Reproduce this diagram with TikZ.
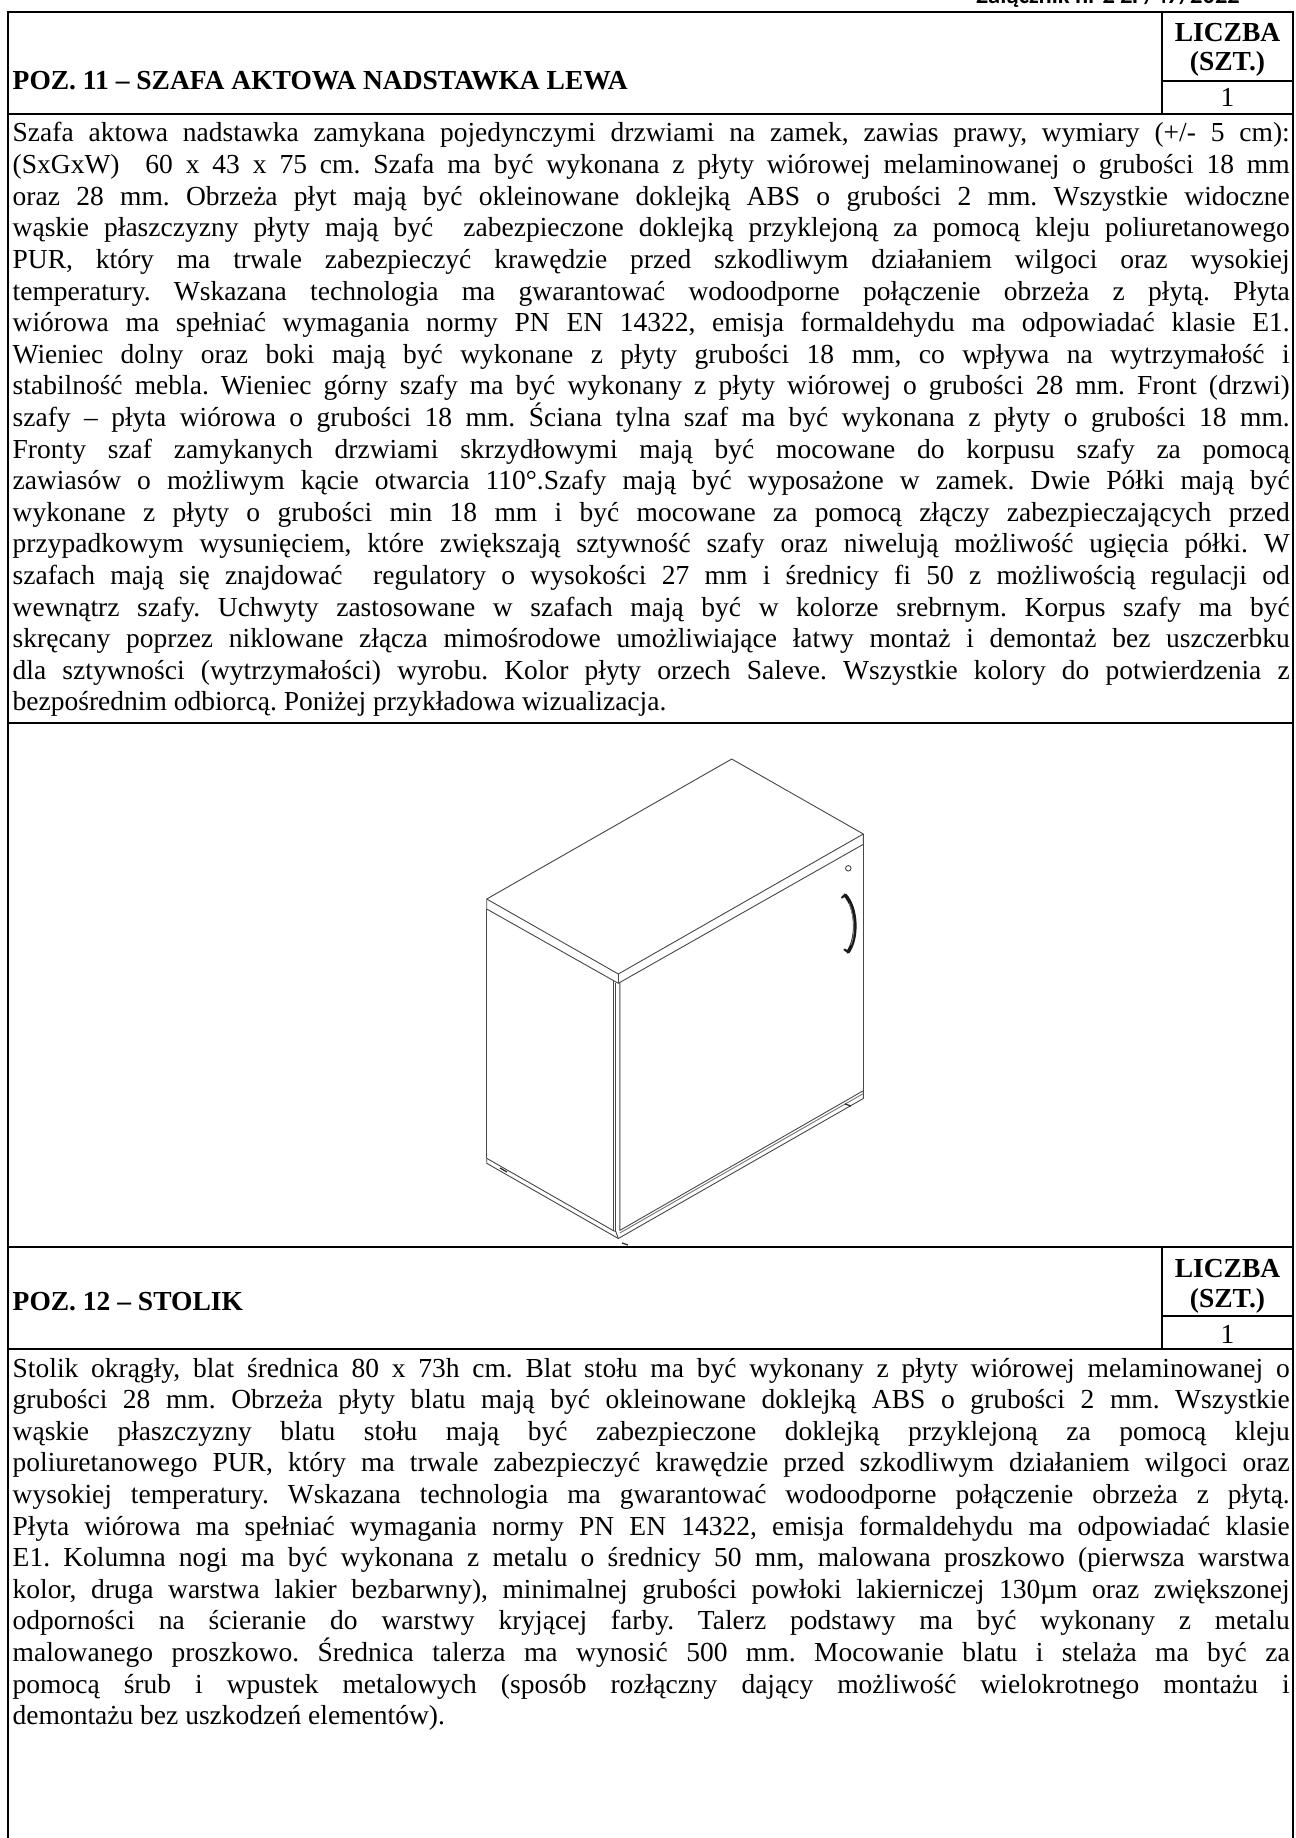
\documentclass[tikz,border=0pt]{standalone}
\usepackage{fontspec}
\setmainfont{Liberation Serif}
\newfontfamily\hdrfont{Carlito}
\newcommand{\JLine}[1]{\makebox[1277pt][s]{#1}}
\tikzset{
  rule/.style={line width=2.2pt, black, line cap=rect},
  bodytxt/.style={anchor=base west, inner sep=0pt, font=\fontsize{27.5}{31.6}\selectfont\frenchspacing},
  boldtxt/.style={anchor=base, inner sep=0pt, font=\fontsize{27.5}{31.6}\selectfont\bfseries},
  titletxt/.style={anchor=base west, inner sep=0pt, font=\fontsize{27.5}{31.6}\selectfont\bfseries\frenchspacing},
  cab/.style={line width=0.9pt, draw=black!72, line join=round},
  cabdark/.style={line width=1.2pt, draw=black!85},
}
\begin{document}
\frenchspacing
\begin{tikzpicture}[x=1pt,y=-1pt]
\useasboundingbox (0,0) rectangle (1295,1838);
% page header (cut at the top edge, as in the reference)
\node[anchor=base east, inner sep=0pt, font=\hdrfont\bfseries\fontsize{24.5}{28}\selectfont] (zal) at (1240,4) {Załącznik nr 2 ZP/47/2022};
% ---------- table rules ----------
\coordinate (L0) at (8,12.3);   \coordinate (R0) at (1293,12.3);
\coordinate (L1) at (8,114.3);  \coordinate (R1) at (1293,114.3);
\coordinate (L2) at (8,723);    \coordinate (R2) at (1293,723);
\coordinate (L3) at (8,1247);   \coordinate (R3) at (1293,1247);
\coordinate (L4) at (8,1349);   \coordinate (R4) at (1293,1349);
\coordinate (Lb) at (8,1838);   \coordinate (Rb) at (1293,1838);
\coordinate (C0) at (1162,12.3);  \coordinate (C1) at (1162,114.3);
\coordinate (Cm1) at (1162,81);   \coordinate (Rm1) at (1293,81);
\coordinate (C3) at (1162,1247);  \coordinate (C4) at (1162,1349);
\coordinate (Cm2) at (1162,1316); \coordinate (Rm2) at (1293,1316);
\draw[rule] (L0) -- (R0);
\draw[rule] (L1) -- (R1);
\draw[rule] (L2) -- (R2);
\draw[rule] (L3) -- (R3);
\draw[rule] (L4) -- (R4);
\draw[rule] (L0) -- (Lb);
\draw[rule] (R0) -- (Rb);
\draw[rule] (C0) -- (C1);
\draw[rule] (Cm1) -- (Rm1);
\draw[rule] (C3) -- (C4);
\draw[rule] (Cm2) -- (Rm2);
% ---------- section 1 header ----------
\node[titletxt] (t1) at (12.5,90) {POZ. 11 – SZAFA AKTOWA NADSTAWKA LEWA};
\node[boldtxt] (lic1) at (1227.5,42) {LICZBA};
\node[boldtxt] (szt1) at (1227.5,71) {(SZT.)};
\node[anchor=base, inner sep=0pt, font=\fontsize{27.5}{31.6}\selectfont] (n1) at (1227.5,107) {1};
% ---------- section 1 body ----------
\node[bodytxt] (a01) at (12.5,{142+31.6*0}) {\JLine{Szafa aktowa nadstawka zamykana pojedynczymi drzwiami na zamek, zawias prawy, wymiary (+/- 5 cm):}};
\node[bodytxt] (a02) at (12.5,{142+31.6*1}) {\JLine{(SxGxW)\ \ 60 x 43 x 75 cm. Szafa ma być wykonana z płyty wiórowej melaminowanej o grubości 18 mm}};
\node[bodytxt] (a03) at (12.5,{142+31.6*2}) {\JLine{oraz 28 mm. Obrzeża płyt mają być okleinowane doklejką ABS o grubości 2 mm. Wszystkie widoczne}};
\node[bodytxt] (a04) at (12.5,{142+31.6*3}) {\JLine{wąskie płaszczyzny płyty mają być\ \ zabezpieczone doklejką przyklejoną za pomocą kleju poliuretanowego}};
\node[bodytxt] (a05) at (12.5,{142+31.6*4}) {\JLine{PUR, który ma trwale zabezpieczyć krawędzie przed szkodliwym działaniem wilgoci oraz wysokiej}};
\node[bodytxt] (a06) at (12.5,{142+31.6*5}) {\JLine{temperatury. Wskazana technologia ma gwarantować wodoodporne połączenie obrzeża z płytą. Płyta}};
\node[bodytxt] (a07) at (12.5,{142+31.6*6}) {\JLine{wiórowa ma spełniać wymagania normy PN EN 14322, emisja formaldehydu ma odpowiadać klasie E1.}};
\node[bodytxt] (a08) at (12.5,{142+31.6*7}) {\JLine{Wieniec dolny oraz boki mają być wykonane z płyty grubości 18 mm, co wpływa na wytrzymałość i}};
\node[bodytxt] (a09) at (12.5,{142+31.6*8}) {\JLine{stabilność mebla. Wieniec górny szafy ma być wykonany z płyty wiórowej o grubości 28 mm. Front (drzwi)}};
\node[bodytxt] (a10) at (12.5,{142+31.6*9}) {\JLine{szafy – płyta wiórowa o grubości 18 mm. Ściana tylna szaf ma być wykonana z płyty o grubości 18 mm.}};
\node[bodytxt] (a11) at (12.5,{142+31.6*10}) {\JLine{Fronty szaf zamykanych drzwiami skrzydłowymi mają być mocowane do korpusu szafy za pomocą}};
\node[bodytxt] (a12) at (12.5,{142+31.6*11}) {\JLine{zawiasów o możliwym kącie otwarcia 110°.Szafy mają być wyposażone w zamek. Dwie Półki mają być}};
\node[bodytxt] (a13) at (12.5,{142+31.6*12}) {\JLine{wykonane z płyty o grubości min 18 mm i być mocowane za pomocą złączy zabezpieczających przed}};
\node[bodytxt] (a14) at (12.5,{142+31.6*13}) {\JLine{przypadkowym wysunięciem, które zwiększają sztywność szafy oraz niwelują możliwość ugięcia półki. W}};
\node[bodytxt] (a15) at (12.5,{142+31.6*14}) {\JLine{szafach mają się znajdować\ \ regulatory o wysokości 27 mm i średnicy fi 50 z możliwością regulacji od}};
\node[bodytxt] (a16) at (12.5,{142+31.6*15}) {\JLine{wewnątrz szafy. Uchwyty zastosowane w szafach mają być w kolorze srebrnym. Korpus szafy ma być}};
\node[bodytxt] (a17) at (12.5,{142+31.6*16}) {\JLine{skręcany poprzez niklowane złącza mimośrodowe umożliwiające łatwy montaż i demontaż bez uszczerbku}};
\node[bodytxt] (a18) at (12.5,{142+31.6*17}) {\JLine{dla sztywności (wytrzymałości) wyrobu. Kolor płyty orzech Saleve. Wszystkie kolory do potwierdzenia z}};
\node[bodytxt] (a19) at (12.5,{142+31.6*18}) {bezpośrednim odbiorcą. Poniżej przykładowa wizualizacja.};
% ---------- cabinet drawing ----------
\coordinate (TL) at (486.7,899);   \coordinate (TLb) at (486.7,909);
\coordinate (TF) at (618.3,974);   \coordinate (TFb) at (618.3,983.3);
\coordinate (TR) at (863.3,834);   \coordinate (TRb) at (863.3,844.3);
\coordinate (TB) at (731.7,759);
\draw[cab] (TL) -- (TF) -- (TR) -- (TB) -- cycle;
\draw[cab] (TL) -- (TLb) -- (TFb) -- (TRb) -- (TR);
\draw[cab] (TF) -- (TFb);
% left side panel
\coordinate (SL1) at (486.7,909);    \coordinate (SL2) at (486.7,1158.3);
\coordinate (SF1) at (613.3,980.5);  \coordinate (SF2) at (613.3,1230.6);
\draw[cab] (SL1) -- (SL2);
\draw[cab] (SF1) -- (SF2);
% bottom panel
\coordinate (BL1) at (486.7,1163.3); \coordinate (BF) at (618.3,1238.5);
\coordinate (BR) at (863.3,1098.5);  \coordinate (BR0) at (863.3,1090.7);
\draw[cab] (SL2) -- (BL1) -- (BF) -- (BR) -- (BR0);
\draw[cab] (SL2) -- (SF2);
% door
\coordinate (D1) at (615.8,983);   \coordinate (D1b) at (615.8,1231.5);
\coordinate (D2) at (619.8,982);   \coordinate (D2b) at (619.8,1230.4);
\coordinate (D3) at (619.8,1233);  \coordinate (D3r) at (863.3,1093.6);
\draw[cab] (D1) -- (D1b);
\draw[cab] (D2) -- (D2b) -- (BR0);
\draw[cab, draw=black!55] (D3) -- (D3r);
\draw[cab] (SF2) -- (D1b) -- (BF);
\draw[cab] (TRb) -- (BR0);
% lock and handle
\node[circle, draw=black!80, line width=0.8pt, minimum size=5.5pt, inner sep=0pt] (lock) at (848.3,868.3) {};
\coordinate (H1) at (845,895); \coordinate (H2) at (848,952);
\draw[line width=3.6pt, black!90, line cap=round] (H1) .. controls (857,908) and (858,938) .. (H2);
\draw[line width=2.2pt, black!90, line cap=round] (H1) -- (842,897.5);
\draw[line width=2.2pt, black!90, line cap=round] (H2) -- (844.5,949.5);
\draw[line width=0.7pt, black!45] (848.8,903) .. controls (854.8,916) and (855.2,935) .. (850.8,945);
% feet marks
\coordinate (F1a) at (500,1168); \coordinate (F1b) at (507,1172);
\coordinate (F2a) at (845,1104); \coordinate (F2b) at (851,1106);
\coordinate (F3a) at (622,1243); \coordinate (F3b) at (628,1245);
\draw[cabdark] (F1a) -- (F1b);
\draw[cabdark] (F2a) -- (F2b);
\draw[cabdark] (F3a) -- (F3b);
% ---------- section 2 header ----------
\node[titletxt] (t2) at (12.5,1310) {POZ. 12 – STOLIK};
\node[boldtxt] (lic2) at (1227.5,1277) {LICZBA};
\node[boldtxt] (szt2) at (1227.5,1307) {(SZT.)};
\node[anchor=base, inner sep=0pt, font=\fontsize{27.5}{31.6}\selectfont] (n2) at (1227.5,1343) {1};
% ---------- section 2 body ----------
\node[bodytxt] (b01) at (12.5,{1377+31.6*0}) {\JLine{Stolik okrągły, blat średnica 80 x 73h cm. Blat stołu ma być wykonany z płyty wiórowej melaminowanej o}};
\node[bodytxt] (b02) at (12.5,{1377+31.6*1}) {\JLine{grubości 28 mm. Obrzeża płyty blatu mają być okleinowane doklejką ABS o grubości 2 mm. Wszystkie}};
\node[bodytxt] (b03) at (12.5,{1377+31.6*2}) {\JLine{wąskie płaszczyzny blatu stołu mają być zabezpieczone doklejką przyklejoną za pomocą kleju}};
\node[bodytxt] (b04) at (12.5,{1377+31.6*3}) {\JLine{poliuretanowego PUR, który ma trwale zabezpieczyć krawędzie przed szkodliwym działaniem wilgoci oraz}};
\node[bodytxt] (b05) at (12.5,{1377+31.6*4}) {\JLine{wysokiej temperatury. Wskazana technologia ma gwarantować wodoodporne połączenie obrzeża z płytą.}};
\node[bodytxt] (b06) at (12.5,{1377+31.6*5}) {\JLine{Płyta wiórowa ma spełniać wymagania normy PN EN 14322, emisja formaldehydu ma odpowiadać klasie}};
\node[bodytxt] (b07) at (12.5,{1377+31.6*6}) {\JLine{E1. Kolumna nogi ma być wykonana z metalu o średnicy 50 mm, malowana proszkowo (pierwsza warstwa}};
\node[bodytxt] (b08) at (12.5,{1377+31.6*7}) {\JLine{kolor, druga warstwa lakier bezbarwny), minimalnej grubości powłoki lakierniczej 130µm oraz zwiększonej}};
\node[bodytxt] (b09) at (12.5,{1377+31.6*8}) {\JLine{odporności na ścieranie do warstwy kryjącej farby. Talerz podstawy ma być wykonany z metalu}};
\node[bodytxt] (b10) at (12.5,{1377+31.6*9}) {\JLine{malowanego proszkowo. Średnica talerza ma wynosić 500 mm. Mocowanie blatu i stelaża ma być za}};
\node[bodytxt] (b11) at (12.5,{1377+31.6*10}) {\JLine{pomocą śrub i wpustek metalowych (sposób rozłączny dający możliwość wielokrotnego montażu i}};
\node[bodytxt] (b12) at (12.5,{1377+31.6*11}) {demontażu bez uszkodzeń elementów).};
\end{tikzpicture}
\end{document}
